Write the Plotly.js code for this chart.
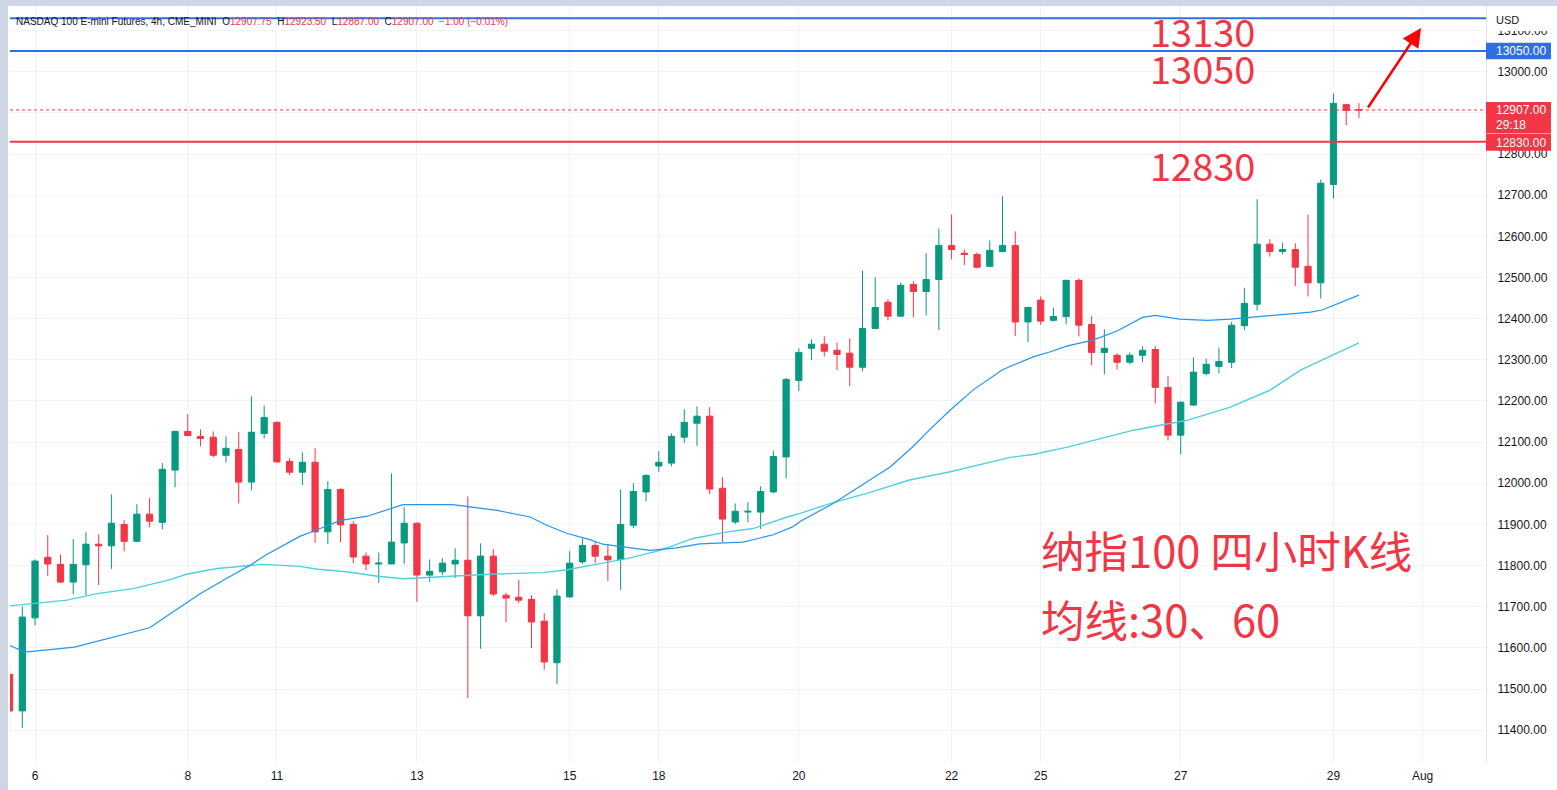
<!DOCTYPE html>
<html>
<head>
<meta charset="utf-8">
<script src="https://cdn.plot.ly/plotly-3.0.1.min.js"></script>
<style>
  html, body { margin:0; padding:0; background:#cfd6e3; width:1557px; height:790px; overflow:hidden; }
  #pane { position:absolute; left:8px; top:6px; width:1549px; height:784px; background:#ffffff; }
  #chart { position:absolute; left:8px; top:0px; width:1549px; height:790px; }
</style>
</head>
<body>
<div id="pane"></div>
<div id="chart"></div>
<script>
// ---- Candles (4h bars, index 0..106) ----
const barIndex = Array.from({length:107}, (_, i) => i);
const openP = [11536,11447,11673,11820,11803,11760,11802,11852,11848,11900,11859,11925,11905,12032,12126,12114,12112,12068,12082,12003,
  12121,12148,12053,12027,12051,11882,11985,11900,11823,11804,11804,11855,11903,11777,11785,11804,11813,11678,11823,11728,
  11723,11718,11665,11564,11724,11809,11849,11823,11815,11898,11979,12042,12049,12112,12146,12163,11988,11906,11930,11930,
  11979,12064,12250,12328,12338,12323,12316,12282,12376,12440,12406,12483,12466,12495,12578,12559,12556,12527,12563,12578,
  12392,12445,12396,12405,12493,12386,12318,12311,12294,12311,12325,12233,12117,12190,12267,12284,12294,12383,12435,12581,
  12563,12568,12527,12487,12726,12920,12907.75];
const highP = [11560,11701,11815,11874,11827,11864,11881,11876,11973,11910,11949,11964,12049,12128,12168,12131,12126,12114,12124,12211,
  12189,12150,12061,12075,12085,12005,11988,11908,11832,11832,12024,11942,11905,11815,11818,11842,11968,11854,11840,11734,
  11765,11728,11685,11742,11835,11866,11859,11852,11985,12000,12022,12078,12121,12180,12187,12185,12015,11951,11954,11993,
  12080,12256,12328,12350,12357,12342,12352,12517,12500,12447,12488,12491,12559,12619,12653,12568,12561,12590,12697,12612,
  12429,12454,12427,12495,12498,12406,12374,12316,12318,12333,12333,12260,12199,12306,12303,12330,12392,12475,12690,12593,
  12585,12583,12653,12738,12947,12922,12923.5];
const lowP = [11388,11406,11655,11775,11758,11730,11728,11753,11792,11835,11857,11893,11888,11990,12114,12090,12063,12051,11951,11983,
  12109,12050,12020,11996,11855,11853,11857,11806,11789,11758,11804,11804,11712,11760,11777,11770,11478,11598,11726,11663,
  11709,11600,11547,11512,11722,11804,11806,11763,11741,11891,11956,12027,12041,12098,12091,11974,11857,11901,11905,11889,
  11976,12012,12224,12299,12308,12275,12236,12272,12374,12396,12404,12403,12408,12372,12544,12530,12522,12525,12561,12358,
  12343,12385,12393,12386,12357,12287,12265,12277,12289,12294,12194,12104,12070,12188,12262,12267,12280,12372,12420,12551,
  12556,12479,12454,12449,12692,12870,12887];
const closeP = [11447,11675,11811,11804,11760,11803,11852,11848,11903,11859,11925,11908,12034,12126,12116,12109,12068,12085,12003,12124,
  12160,12052,12027,12051,11882,11985,11899,11821,11804,11806,11857,11903,11777,11786,11806,11813,11678,11823,11731,11721,
  11716,11663,11566,11726,11806,11849,11823,11814,11900,11980,12019,12051,12114,12148,12163,11986,11913,11932,11932,11980,
  12065,12252,12318,12338,12321,12313,12282,12376,12427,12406,12481,12466,12495,12578,12568,12556,12525,12566,12578,12392,
  12427,12394,12405,12493,12384,12318,12328,12294,12311,12323,12233,12117,12197,12270,12289,12296,12384,12437,12581,12563,
  12568,12525,12487,12729,12923,12906,12907];

// ---- Moving averages (bar position, price) ----
const ma30X = [0,1.2,5.1,11.0,13.0,15.0,17.0,18.9,20.1,22.8,24.4,26.0,28.1,29.1,30.9,34.8,36.4,38.3,40.9,42.2,43.8,45.6,46.6,48.2,50.3,52.4,54.2,57.6,60.0,61.5,62.1,64.7,67.0,69.2,71.1,72.1,73.9,75.7,78.0,80.4,81.7,83.1,85.1,87.0,89.0,90.0,91.9,94.1,95.9,99.0,102.2,103.1,106.0];
const ma30Y = [11606,11590,11602,11649,11691,11732,11768,11801,11825,11871,11890,11910,11920,11930,11948,11948,11942,11934,11918,11898,11878,11863,11852,11845,11837,11843,11853,11857,11875,11894,11907,11951,11996,12040,12093,12125,12178,12227,12276,12307,12319,12334,12348,12370,12403,12408,12399,12396,12399,12408,12416,12421,12457];
const ma60X = [0,4.5,6.9,9.7,12.4,13.9,16.3,19.9,22.8,24.2,26.5,28.9,30.9,35.1,37.7,41.9,43.8,46.6,48.5,51.1,53.7,56.4,58.4,61.1,62.1,64.7,67.4,70.7,73.9,78.6,80.4,83.1,85.7,88.3,90.4,92.5,95.9,99.0,101.4,103.7,106.0];
const ma60Y = [11702,11716,11732,11744,11764,11779,11793,11803,11798,11791,11785,11774,11768,11774,11779,11783,11790,11806,11817,11837,11866,11882,11890,11918,11927,11953,11976,12008,12028,12063,12070,12088,12109,12129,12141,12153,12185,12226,12275,12307,12341];

// ---- Axis ticks ----
const dateTickPos = [2,14,21,32,44,51,62,74,81,92,104,111];
const dateTickText = ['6','8','11','13','15','18','20','22','25','27','29','Aug'];

// ---- Drawn levels and labels ----
const blueLevels = [13130, 13050];
const redLevel = 12830;
const lastPrice = 12907;
const levelTexts = ['13130','13050','12830'];
const titleLine1 = '纳指100 四小时K线';
const titleLine2 = '均线:30、60';

const UP = '#089981', DOWN = '#F23645', BLUE = '#2E6FE8', TXTRED = '#F23645';
const AXFONT = 'Liberation Sans, Arial, sans-serif';
const CJK = 'Noto Sans CJK SC, sans-serif';

const traces = [
  { type:'scatter', mode:'lines', x:ma60X, y:ma60Y, line:{color:'#4DD0E1', width:1.4}, hoverinfo:'skip' },
  { type:'scatter', mode:'lines', x:ma30X, y:ma30Y, line:{color:'#2196F3', width:1.2}, hoverinfo:'skip' },
  { type:'candlestick', x:barIndex, open:openP, high:highP, low:lowP, close:closeP,
    increasing:{line:{color:UP, width:1}, fillcolor:UP},
    decreasing:{line:{color:DOWN, width:1}, fillcolor:DOWN},
    whiskerwidth:0, hoverinfo:'skip' }
];

const pxX = px => (px - 10) / 1476;     // page px -> paper x
const pxY = py => (763 - py) / 757;     // page py -> paper y
const axW = 65 / 1476;

const shapes = [];
blueLevels.forEach(v => shapes.push({type:'line', xref:'paper', x0:0, x1:1, yref:'y', y0:v, y1:v, line:{color:BLUE, width:2}, layer:'above'}));
shapes.push({type:'line', xref:'paper', x0:0, x1:1, yref:'y', y0:redLevel, y1:redLevel, line:{color:DOWN, width:2}, layer:'above'});
shapes.push({type:'line', xref:'paper', x0:0, x1:1, yref:'y', y0:lastPrice, y1:lastPrice, line:{color:DOWN, width:1, dash:'dot'}, layer:'above'});
// axis price boxes
shapes.push({type:'rect', xref:'paper', x0:1.0007, x1:1+axW+0.01, yref:'paper', y0:pxY(31), y1:1, fillcolor:'#ffffff', line:{width:0}, layer:'above'});
shapes.push({type:'rect', xref:'paper', x0:1, x1:1+axW, yref:'y', ysizemode:'pixel', yanchor:blueLevels[1], y0:-8.2, y1:8.4, fillcolor:BLUE, line:{width:0}, layer:'above'});
shapes.push({type:'rect', xref:'paper', x0:1, x1:1+axW, yref:'y', ysizemode:'pixel', yanchor:lastPrice, y0:-23.5, y1:8, fillcolor:DOWN, line:{width:0}, layer:'above'});
shapes.push({type:'rect', xref:'paper', x0:1, x1:1+axW, yref:'y', ysizemode:'pixel', yanchor:redLevel, y0:-9, y1:7.7, fillcolor:DOWN, line:{width:0}, layer:'above'});

const red = t => '<span style="color:#F23645">' + t + '</span>';
const header = 'NASDAQ 100 E-mini Futures, 4h, CME_MINI  O' + red('12907.75') + '  H' + red('12923.50') +
  '  L' + red('12887.00') + '  C' + red('12907.00') + '  ' + red('\u22121.00 (\u22120.01%)');

const annotations = [
  {xref:'paper', yref:'paper', x:pxX(14), y:pxY(22), xanchor:'left', yanchor:'middle', showarrow:false,
   text:header, font:{family:AXFONT, size:10, color:'#131722'}},
  {xref:'paper', yref:'paper', x:pxX(1148), y:pxY(30), xanchor:'left', yanchor:'middle', showarrow:false,
   text:levelTexts[0], font:{family:CJK, size:38, color:TXTRED}},
  {xref:'paper', yref:'paper', x:pxX(1148), y:pxY(67.5), xanchor:'left', yanchor:'middle', showarrow:false,
   text:levelTexts[1], font:{family:CJK, size:38, color:TXTRED}},
  {xref:'paper', yref:'paper', x:pxX(1148), y:pxY(164.5), xanchor:'left', yanchor:'middle', showarrow:false,
   text:levelTexts[2], font:{family:CJK, size:38, color:TXTRED}},
  {xref:'paper', yref:'paper', x:pxX(1039), y:pxY(549), xanchor:'left', yanchor:'middle', showarrow:false,
   text:titleLine1, font:{family:CJK, size:43.5, color:TXTRED}},
  {xref:'paper', yref:'paper', x:pxX(1039), y:pxY(618), xanchor:'left', yanchor:'middle', showarrow:false,
   text:titleLine2, font:{family:CJK, size:43.5, color:TXTRED}},
  // arrow
  {xref:'paper', yref:'paper', x:pxX(1421), y:pxY(28), text:'', showarrow:true, ax:-54, ay:81,
   arrowhead:2, arrowsize:1.5, arrowwidth:2.5, arrowcolor:'#FF0000', standoff:0},
  // axis labels
  {xref:'paper', yref:'paper', x:1, xshift:8, y:pxY(20), xanchor:'left', yanchor:'middle', showarrow:false,
   text:'USD', font:{family:AXFONT, size:11, color:'#131722'}},
  {xref:'paper', yref:'y', x:1, xshift:8, y:blueLevels[1], xanchor:'left', yanchor:'middle', showarrow:false,
   text:'13050.00', font:{family:AXFONT, size:12, color:'#ffffff'}},
  {xref:'paper', yref:'y', x:1, xshift:8, y:lastPrice, xanchor:'left', yanchor:'middle', showarrow:false,
   text:'12907.00', font:{family:AXFONT, size:12, color:'#ffffff'}},
  {xref:'paper', yref:'y', x:1, xshift:8, y:lastPrice, yshift:-15, xanchor:'left', yanchor:'middle', showarrow:false,
   text:'29:18', font:{family:AXFONT, size:12, color:'#ffffff'}},
  {xref:'paper', yref:'y', x:1, xshift:8, y:redLevel, yshift:-1, xanchor:'left', yanchor:'middle', showarrow:false,
   text:'12830.00', font:{family:AXFONT, size:12, color:'#ffffff'}}
];

const layout = {
  width:1549, height:790,
  margin:{l:2, r:71, t:6, b:27},
  paper_bgcolor:'rgba(0,0,0,0)', plot_bgcolor:'#ffffff',
  showlegend:false,
  hovermode:false,
  xaxis:{
    range:[0.034, 115.98], tickmode:'array', tickvals:dateTickPos, ticktext:dateTickText,
    showgrid:true, gridcolor:'#f0f3fa', gridwidth:1, zeroline:false, showline:false, ticks:'',
    ticklabelstandoff:4,
    tickfont:{family:AXFONT, size:12, color:'#131722'}, rangeslider:{visible:false}, fixedrange:true
  },
  yaxis:{
    side:'right', range:[11320.4, 13159.6], tick0:0, dtick:100, tickformat:'.2f',
    showgrid:true, gridcolor:'#f0f3fa', gridwidth:1, zeroline:false,
    showline:true, linecolor:'#e0e3eb', linewidth:1, ticks:'', ticklabelstandoff:8,
    tickfont:{family:AXFONT, size:12, color:'#131722'}, fixedrange:true
  },
  shapes:shapes,
  annotations:annotations
};

Plotly.newPlot('chart', traces, layout, {staticPlot:true, displayModeBar:false});
</script>
</body>
</html>
